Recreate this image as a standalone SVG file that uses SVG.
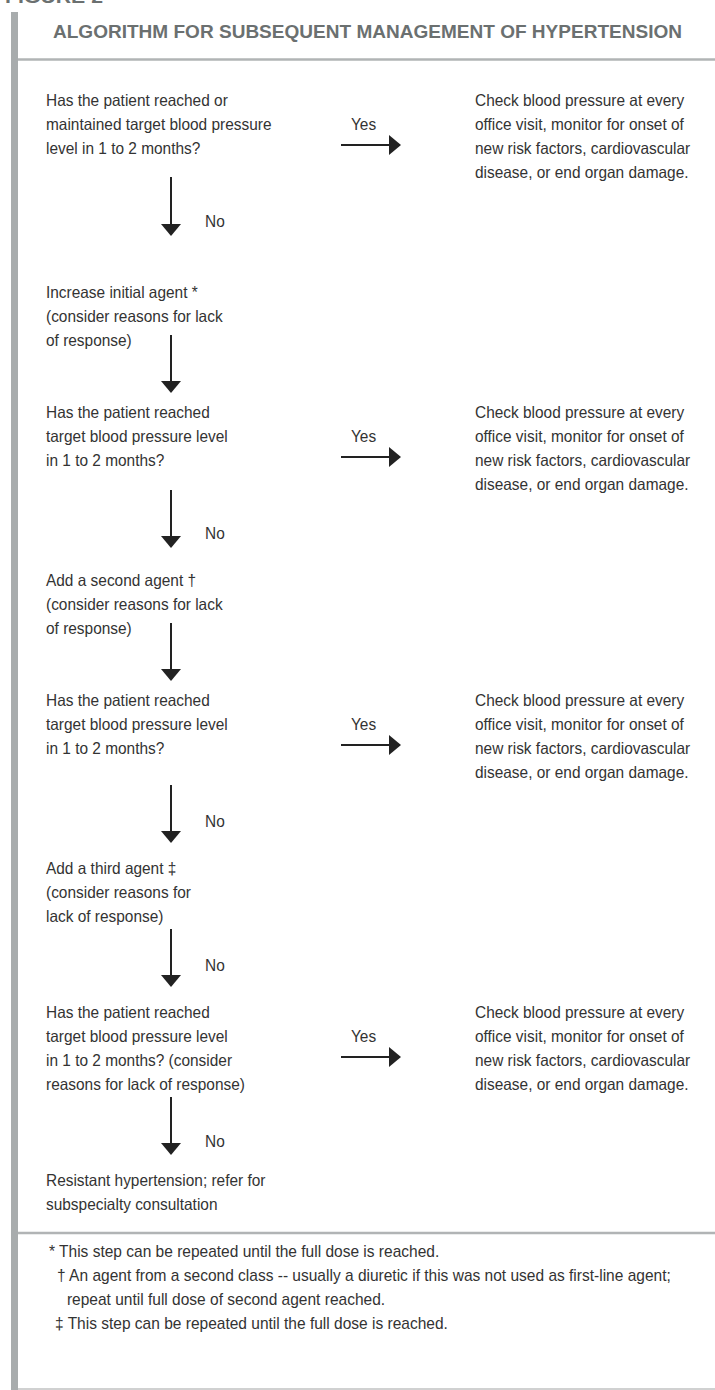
<svg xmlns="http://www.w3.org/2000/svg" width="715" height="1390" viewBox="0 0 715 1390">
<style>
.t{font-family:"Liberation Sans",Arial,sans-serif;font-size:16.5px;fill:#333;}
.f{font-family:"Liberation Sans",Arial,sans-serif;font-size:16px;fill:#333;}
.h{font-family:"Liberation Sans",Arial,sans-serif;font-size:17.5px;font-weight:bold;fill:#6b7070;}
.rule{stroke:#b1b4b5;stroke-width:2.5;fill:none;}
.c line{stroke:#222;stroke-width:2;}
</style>
<defs>
<marker id="ah" markerUnits="userSpaceOnUse" markerWidth="12" markerHeight="20" refX="0" refY="10" orient="auto" viewBox="0 0 12 20">
<path d="M0,0 L12,10 L0,20 Z" fill="#222"/>
</marker>
</defs>
<rect width="715" height="1390" fill="#fff"/>
<text class="h" x="5" y="3" textLength="98" lengthAdjust="spacingAndGlyphs">FIGURE 2</text>
<rect x="11" y="12" width="7" height="1378" fill="#a8acad"/>
<line class="rule" x1="18" y1="59.5" x2="715" y2="59.5"/>
<line class="rule" x1="18" y1="1233" x2="715" y2="1233"/>
<line x1="18" y1="1389" x2="715" y2="1389" stroke="#c0c2c2" stroke-width="1.5"/>
<g id="title"><text class="h" x="53" y="37.5" textLength="629" lengthAdjust="spacingAndGlyphs">ALGORITHM FOR SUBSEQUENT MANAGEMENT OF HYPERTENSION</text></g>

<g id="q1" transform="translate(46 0) scale(0.935 1)">
<text class="t" x="0" y="106">Has the patient reached or</text>
<text class="t" x="0" y="130">maintained target blood pressure</text>
<text class="t" x="0" y="154">level in 1 to 2 months?</text>
</g>
<g id="c1" transform="translate(475 0) scale(0.935 1)">
<text class="t" x="0" y="106">Check blood pressure at every</text>
<text class="t" x="0" y="130">office visit, monitor for onset of</text>
<text class="t" x="0" y="154">new risk factors, cardiovascular</text>
<text class="t" x="0" y="178">disease, or end organ damage.</text>
</g>
<g id="inc1" transform="translate(46 0) scale(0.935 1)">
<text class="t" x="0" y="298">Increase initial agent *</text>
<text class="t" x="0" y="322">(consider reasons for lack</text>
<text class="t" x="0" y="346">of response)</text>
</g>
<g id="q2" transform="translate(46 0) scale(0.935 1)">
<text class="t" x="0" y="418">Has the patient reached</text>
<text class="t" x="0" y="442">target blood pressure level</text>
<text class="t" x="0" y="466">in 1 to 2 months?</text>
</g>
<g id="c2" transform="translate(475 0) scale(0.935 1)">
<text class="t" x="0" y="418">Check blood pressure at every</text>
<text class="t" x="0" y="442">office visit, monitor for onset of</text>
<text class="t" x="0" y="466">new risk factors, cardiovascular</text>
<text class="t" x="0" y="490">disease, or end organ damage.</text>
</g>
<g id="add2" transform="translate(46 0) scale(0.935 1)">
<text class="t" x="0" y="586">Add a second agent †</text>
<text class="t" x="0" y="610">(consider reasons for lack</text>
<text class="t" x="0" y="634">of response)</text>
</g>
<g id="q3" transform="translate(46 0) scale(0.935 1)">
<text class="t" x="0" y="706">Has the patient reached</text>
<text class="t" x="0" y="730">target blood pressure level</text>
<text class="t" x="0" y="754">in 1 to 2 months?</text>
</g>
<g id="c3" transform="translate(475 0) scale(0.935 1)">
<text class="t" x="0" y="706">Check blood pressure at every</text>
<text class="t" x="0" y="730">office visit, monitor for onset of</text>
<text class="t" x="0" y="754">new risk factors, cardiovascular</text>
<text class="t" x="0" y="778">disease, or end organ damage.</text>
</g>
<g id="add3" transform="translate(46 0) scale(0.935 1)">
<text class="t" x="0" y="874">Add a third agent ‡</text>
<text class="t" x="0" y="898">(consider reasons for</text>
<text class="t" x="0" y="922">lack of response)</text>
</g>
<g id="q4" transform="translate(46 0) scale(0.935 1)">
<text class="t" x="0" y="1018">Has the patient reached</text>
<text class="t" x="0" y="1042">target blood pressure level</text>
<text class="t" x="0" y="1066">in 1 to 2 months? (consider</text>
<text class="t" x="0" y="1090">reasons for lack of response)</text>
</g>
<g id="c4" transform="translate(475 0) scale(0.935 1)">
<text class="t" x="0" y="1018">Check blood pressure at every</text>
<text class="t" x="0" y="1042">office visit, monitor for onset of</text>
<text class="t" x="0" y="1066">new risk factors, cardiovascular</text>
<text class="t" x="0" y="1090">disease, or end organ damage.</text>
</g>
<g id="resistant" transform="translate(46 0) scale(0.935 1)">
<text class="t" x="0" y="1186">Resistant hypertension; refer for</text>
<text class="t" x="0" y="1210">subspecialty consultation</text>
</g>

<g id="connectors" class="c">
<line x1="341" y1="145" x2="389" y2="145" marker-end="url(#ah)"/>
<line x1="341" y1="457" x2="389" y2="457" marker-end="url(#ah)"/>
<line x1="341" y1="745" x2="389" y2="745" marker-end="url(#ah)"/>
<line x1="341" y1="1057" x2="389" y2="1057" marker-end="url(#ah)"/>
<line x1="171" y1="177" x2="171" y2="224" marker-end="url(#ah)"/>
<line x1="171" y1="335" x2="171" y2="381" marker-end="url(#ah)"/>
<line x1="171" y1="490" x2="171" y2="536" marker-end="url(#ah)"/>
<line x1="171" y1="623" x2="171" y2="669" marker-end="url(#ah)"/>
<line x1="171" y1="785" x2="171" y2="831" marker-end="url(#ah)"/>
<line x1="171" y1="929" x2="171" y2="975" marker-end="url(#ah)"/>
<line x1="171" y1="1097" x2="171" y2="1143" marker-end="url(#ah)"/>
<g transform="scale(0.935 1)">
<text class="t" x="375.4" y="130">Yes</text>
<text class="t" x="375.4" y="442">Yes</text>
<text class="t" x="375.4" y="730">Yes</text>
<text class="t" x="375.4" y="1042">Yes</text>
<text class="t" x="219.3" y="226.7">No</text>
<text class="t" x="219.3" y="538.7">No</text>
<text class="t" x="219.3" y="826.7">No</text>
<text class="t" x="219.3" y="970.7">No</text>
<text class="t" x="219.3" y="1146.7">No</text>
</g>
</g>

<g id="footnotes" transform="scale(0.97 1)">
<text class="f" x="50.5" y="1257">* This step can be repeated until the full dose is reached.</text>
<text class="f" x="58.8" y="1281">† An agent from a second class -- usually a diuretic if this was not used as first-line agent;</text>
<text class="f" x="69" y="1305">repeat until full dose of second agent reached.</text>
<text class="f" x="56.7" y="1329">‡ This step can be repeated until the full dose is reached.</text>
</g>
</svg>
